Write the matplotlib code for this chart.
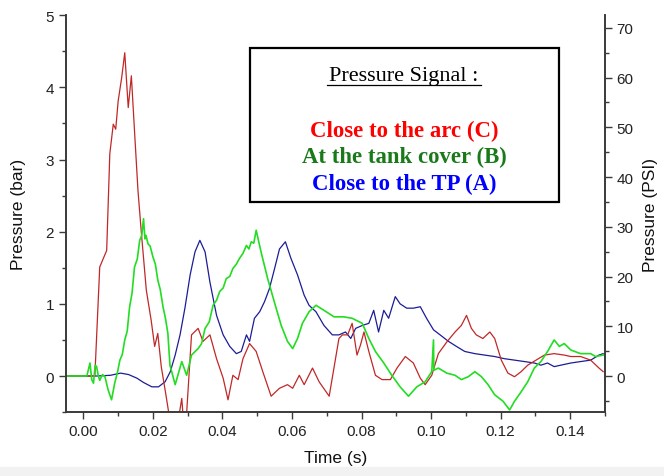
import numpy as np
import matplotlib.pyplot as plt
from matplotlib.patches import Rectangle
from matplotlib.ticker import MultipleLocator

BAR_TO_PSI = 14.5038

# time (s), pressure (bar)
t_arc = [-0.005, 0.0033, 0.0047, 0.0067, 0.0076, 0.0086, 0.0093, 0.0100, 0.0110, 0.0119,
         0.0129, 0.0138, 0.0147, 0.0157, 0.0167, 0.0181, 0.0195, 0.0205, 0.0214, 0.0224,
         0.0238, 0.0255, 0.0270, 0.0283, 0.0292, 0.0311, 0.0330, 0.0344, 0.0364, 0.0383,
         0.0402, 0.0416, 0.0430, 0.0445, 0.0459, 0.0478, 0.0497, 0.0516, 0.0540, 0.0564,
         0.0587, 0.0602, 0.0621, 0.0635, 0.0659, 0.0678, 0.0707, 0.0735, 0.0745, 0.0760,
         0.0773, 0.0787, 0.0797, 0.0807, 0.0821, 0.0840, 0.0859, 0.0883, 0.0902, 0.0926,
         0.0949, 0.0969, 0.0983, 0.1002, 0.1021, 0.1045, 0.1069, 0.1087, 0.1102, 0.1116,
         0.1130, 0.1149, 0.1169, 0.1183, 0.1202, 0.1221, 0.1240, 0.1259, 0.1278, 0.1302,
         0.1326, 0.1354, 0.1383, 0.1402, 0.1430, 0.1459, 0.1483, 0.1495]
p_arc = [0.0, 0.0, 1.51, 1.74, 3.08, 3.49, 3.42, 3.81, 4.13, 4.48,
         3.72, 4.16, 3.40, 2.57, 1.97, 1.19, 0.77, 0.41, 0.59, 0.13,
         -0.28, -0.80, -0.70, -0.31, -0.90, 0.57, 0.66, 0.48, 0.57, 0.24,
         -0.03, -0.33, 0.01, -0.05, 0.24, 0.45, 0.34, 0.06, -0.28, -0.17,
         -0.12, -0.17, 0.01, -0.12, 0.11, -0.08, -0.28, 0.52, 0.57, 0.57,
         0.73, 0.29, 0.43, 0.61, 0.34, 0.01, -0.05, -0.05, 0.11, 0.27,
         0.18, -0.03, -0.12, 0.01, 0.31, 0.47, 0.61, 0.70, 0.84, 0.66,
         0.57, 0.52, 0.61, 0.52, 0.22, 0.04, -0.01, 0.06, 0.15, 0.22,
         0.29, 0.31, 0.29, 0.27, 0.27, 0.22, 0.11, 0.06]

t_cover = [-0.005, 0.0010, 0.0019, 0.0024, 0.0029, 0.0034, 0.0038, 0.0043, 0.0047, 0.0055,
           0.0062, 0.0071, 0.0081, 0.0090, 0.0098, 0.0105, 0.0112, 0.0119, 0.0126, 0.0133,
           0.0140, 0.0147, 0.0155, 0.0162, 0.0168, 0.0173, 0.0177, 0.0180, 0.0186, 0.0192,
           0.0200, 0.0207, 0.0214, 0.0221, 0.0229, 0.0236, 0.0243, 0.0249, 0.0264, 0.0283,
           0.0297, 0.0311, 0.0330, 0.0340, 0.0350, 0.0362, 0.0373, 0.0383, 0.0392, 0.0402,
           0.0411, 0.0421, 0.0430, 0.0440, 0.0449, 0.0459, 0.0469, 0.0476, 0.0483, 0.0490,
           0.0497, 0.0511, 0.0530, 0.0549, 0.0569, 0.0587, 0.0602, 0.0616, 0.0630, 0.0649,
           0.0669, 0.0692, 0.0721, 0.0749, 0.0773, 0.0802, 0.0821, 0.0840, 0.0864, 0.0887,
           0.0911, 0.0935, 0.0959, 0.0983, 0.1002, 0.1007, 0.1008, 0.1021, 0.1045, 0.1069,
           0.1087, 0.1107, 0.1126, 0.1145, 0.1164, 0.1183, 0.1207, 0.1226, 0.1240, 0.1259,
           0.1278, 0.1297, 0.1316, 0.1335, 0.1354, 0.1369, 0.1383, 0.1402, 0.1430, 0.1459,
           0.1473, 0.1495]
p_cover = [0.0, 0.0, 0.18, -0.05, -0.10, 0.15, 0.13, 0.0, -0.06, 0.02,
           -0.01, -0.19, -0.33, -0.10, 0.05, 0.22, 0.30, 0.50, 0.62, 0.96,
           1.15, 1.51, 1.62, 1.88, 1.95, 2.18, 1.90, 1.95, 1.83, 1.80,
           1.65, 1.55, 1.33, 1.20, 0.96, 0.80, 0.59, 0.15, -0.12, 0.20,
           0.01, 0.29, 0.38, 0.45, 0.66, 0.75, 0.98, 1.05, 1.17, 1.22,
           1.35, 1.38, 1.49, 1.55, 1.63, 1.70, 1.81, 1.76, 1.86, 1.84,
           2.02, 1.72, 1.35, 1.03, 0.70, 0.48, 0.38, 0.52, 0.73, 0.89,
           0.98, 0.91, 0.82, 0.82, 0.80, 0.73, 0.52, 0.34, 0.18, 0.01,
           -0.15, -0.28, -0.15, -0.08, 0.06, 0.50, 0.08, 0.11, 0.04, 0.01,
           -0.05, -0.01, 0.06, -0.01, -0.12, -0.26, -0.35, -0.47, -0.35, -0.22,
           -0.08, 0.11, 0.20, 0.34, 0.50, 0.41, 0.45, 0.36, 0.31, 0.31,
           0.27, 0.29]

t_tp = [-0.005, 0.0040, 0.0078, 0.0107, 0.0130, 0.0154, 0.0173, 0.0197, 0.0216, 0.0235,
        0.0250, 0.0264, 0.0278, 0.0292, 0.0307, 0.0321, 0.0335, 0.0350, 0.0364, 0.0383,
        0.0402, 0.0421, 0.0440, 0.0454, 0.0469, 0.0478, 0.0492, 0.0507, 0.0521, 0.0535,
        0.0550, 0.0564, 0.0581, 0.0597, 0.0616, 0.0635, 0.0649, 0.0669, 0.0692, 0.0716,
        0.0735, 0.0754, 0.0769, 0.0783, 0.0802, 0.0821, 0.0835, 0.0849, 0.0864, 0.0878,
        0.0897, 0.0911, 0.0930, 0.0949, 0.0969, 0.0987, 0.1007, 0.1026, 0.1050, 0.1073,
        0.1097, 0.1126, 0.1154, 0.1183, 0.1211, 0.1240, 0.1269, 0.1297, 0.1316, 0.1335,
        0.1354, 0.1373, 0.1402, 0.1430, 0.1459, 0.1483, 0.1495]
p_tp = [0.0, 0.0, 0.01, 0.04, 0.02, -0.03, -0.09, -0.15, -0.15, -0.08,
        0.06, 0.29, 0.57, 0.94, 1.40, 1.72, 1.88, 1.72, 1.30, 0.84,
        0.57, 0.41, 0.31, 0.34, 0.57, 0.48, 0.80, 0.89, 1.03, 1.21,
        1.49, 1.76, 1.86, 1.63, 1.40, 1.12, 0.98, 0.89, 0.70, 0.57,
        0.57, 0.61, 0.52, 0.66, 0.70, 0.73, 0.91, 0.61, 0.91, 0.80,
        1.10, 1.00, 0.94, 0.94, 0.96, 0.80, 0.64, 0.57, 0.48, 0.41,
        0.34, 0.31, 0.29, 0.27, 0.24, 0.22, 0.20, 0.18, 0.15, 0.18,
        0.13, 0.15, 0.18, 0.20, 0.22, 0.29, 0.31]

fig = plt.figure(figsize=(6.64, 4.77), dpi=100)
fig.patches.append(Rectangle((0, 0), 1, 9 / 477, transform=fig.transFigure,
                             color='#f2f2f2', zorder=-5))
ax = fig.add_axes([0.0994, 0.134, 0.8116, 0.832])

ax.plot(t_tp, p_tp, color='#1c1c96', lw=0.9)
ax.plot(t_arc, p_arc, color='#c02828', lw=0.9)
ax.plot(t_cover, p_cover, color='#22dd22', lw=1.2)

ax.set_xlim(-0.005, 0.15)
ax.set_ylim(-0.5, 5)
ax.xaxis.set_major_locator(MultipleLocator(0.02))
ax.xaxis.set_minor_locator(MultipleLocator(0.01))
ax.yaxis.set_major_locator(MultipleLocator(1))
ax.yaxis.set_minor_locator(MultipleLocator(0.5))
ax.xaxis.set_major_formatter(plt.FormatStrFormatter('%.2f'))

ax2 = ax.twinx()
ax2.set_ylim(-0.5 * BAR_TO_PSI, 5 * BAR_TO_PSI)
ax2.yaxis.set_major_locator(MultipleLocator(10))
ax2.yaxis.set_minor_locator(MultipleLocator(5))

font = 'Liberation Sans'
for a in (ax, ax2):
    a.spines['top'].set_visible(False)
    for s in a.spines.values():
        s.set_color('#3a3a3a')
        s.set_linewidth(1.2)
    a.tick_params(which='major', length=5, width=1, color='#3a3a3a',
                  labelsize=11, labelcolor='#222222')
    a.tick_params(which='minor', length=3, width=1, color='#3a3a3a')
    for lbl in a.get_xticklabels() + a.get_yticklabels():
        lbl.set_fontfamily(font)

ax.set_xlabel('Time (s)', fontsize=12.5, family=font, color='#111111', labelpad=9)
ax.set_ylabel('Pressure (bar)', fontsize=12.5, family=font, color='#111111', labelpad=14)
ax2.set_ylabel('Pressure (PSI)', fontsize=12.5, family=font, color='#111111', labelpad=7)

# text box
box = Rectangle((250 / 664, 1 - 203 / 477), 309 / 664, 154 / 477, transform=fig.transFigure,
                fill=False, edgecolor='black', linewidth=1.6, zorder=5)
fig.patches.append(box)
serif = 'Liberation Serif'
fig.text(404 / 664, 1 - 76 / 477, 'Pressure Signal :', ha='center', va='center',
         family=serif, fontsize=16)
fig.add_artist(plt.Line2D([327 / 664, 481 / 664], [1 - 86 / 477, 1 - 86 / 477], color='black', lw=0.9))
fig.text(404 / 664, 1 - 131 / 477, 'Close to the arc (C)', ha='center', va='center',
         family=serif, fontsize=16.4, weight='bold', color='#ff0000')
fig.text(404 / 664, 1 - 157 / 477, 'At the tank cover (B)', ha='center', va='center',
         family=serif, fontsize=16.4, weight='bold', color='#1a7a1a')
fig.text(404 / 664, 1 - 184 / 477, 'Close to the TP (A)', ha='center', va='center',
         family=serif, fontsize=16.4, weight='bold', color='#0000ff')

plt.savefig('out.png', dpi=100)
